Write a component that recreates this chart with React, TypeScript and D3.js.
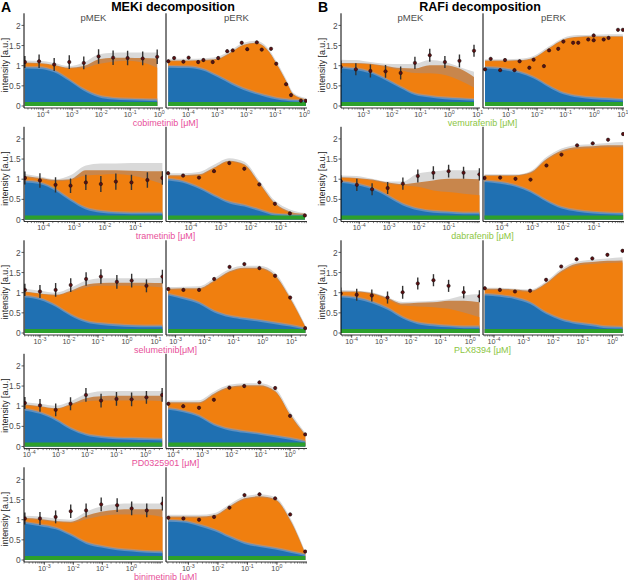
import React from "react";
import * as d3 from "d3";

// ---------- constant layers ----------
const GREEN_TOP = 0.1;
const LIGHTBLUE_BAND = 0.04;
const TAN_BAND = 0.07;

// ---------- A1 cobimetinib ----------
const cobiMekX = [-4.63, -4.14, -3.62, -3.1, -2.6, -2.09, -1.59, -1.09, -0.57, -0.07];
const cobiMekY = [1.09, 1.11, 1.03, 1.09, 1.07, 1.23, 1.2, 1.19, 1.18, 1.22];
const cobiMekErr = [0.15, 0.17, 0.16, 0.17, 0.16, 0.18, 0.18, 0.18, 0.17, 0.18];
const cobiMekBlue = [0.93, 0.92, 0.84, 0.62, 0.38, 0.22, 0.16, 0.14, 0.13, 0.12];
const cobiMekOrange = [1.06, 1.05, 1.0, 0.93, 0.94, 1.04, 1.1, 1.12, 1.08, 0.95];
const cobiMekBrown = [1.08, 1.07, 1.02, 0.95, 0.99, 1.16, 1.2, 1.2, 1.19, 1.18];
const cobiMekGray = [1.13, 1.12, 1.07, 0.99, 1.08, 1.28, 1.32, 1.33, 1.33, 1.33];

const cobiErkX = [-4.69, -4.49, -4.17, -3.99, -3.66, -3.48, -3.16, -2.97, -2.66, -2.47, -2.16, -1.97, -1.64, -1.47, -1.15, -0.97, -0.63, -0.46, -0.12, 0.05];
const cobiErkY = [1.11, 1.19, 1.1, 1.2, 1.09, 1.14, 1.09, 1.19, 1.36, 1.38, 1.57, 1.41, 1.58, 1.4, 1.42, 1.05, 0.54, 0.27, 0.13, 0.13];
const cobiErkErr = [0.04, 0.04, 0.04, 0.04, 0.04, 0.04, 0.04, 0.04, 0.04, 0.04, 0.04, 0.04, 0.04, 0.04, 0.04, 0.04, 0.04, 0.04, 0.04, 0.04];
const cobiErkKnots = [-4.69, -4.0, -3.5, -3.0, -2.5, -2.1, -1.65, -1.3, -0.95, -0.63, -0.38, 0.05];
const cobiErkBlue = [0.95, 0.94, 0.88, 0.72, 0.53, 0.4, 0.29, 0.22, 0.16, 0.13, 0.11, 0.1];
const cobiErkOrange = [1.11, 1.11, 1.12, 1.15, 1.33, 1.5, 1.55, 1.4, 1.02, 0.6, 0.27, 0.15];
const cobiErkBrown = [1.13, 1.13, 1.14, 1.17, 1.35, 1.52, 1.57, 1.42, 1.04, 0.62, 0.29, 0.17];
const cobiErkGray = [1.17, 1.17, 1.18, 1.22, 1.4, 1.57, 1.62, 1.47, 1.09, 0.67, 0.33, 0.2];

// ---------- A2 trametinib ----------
const tramMekX = [-4.61, -4.12, -3.61, -3.12, -2.62, -2.13, -1.64, -1.13, -0.61, -0.12];
const tramMekY = [1.03, 0.97, 0.86, 0.84, 0.92, 0.88, 0.94, 0.92, 0.98, 1.03];
const tramMekErr = [0.16, 0.18, 0.19, 0.18, 0.19, 0.2, 0.2, 0.19, 0.19, 0.17];
const tramMekBlue = [0.92, 0.88, 0.71, 0.46, 0.25, 0.17, 0.14, 0.13, 0.13, 0.13];
const tramMekOrange = [1.05, 1.0, 0.95, 0.98, 1.09, 1.11, 1.13, 1.09, 1.0, 0.88];
const tramMekBrown = [1.08, 1.03, 0.98, 1.0, 1.22, 1.22, 1.22, 1.21, 1.2, 1.2];
const tramMekGray = [1.13, 1.07, 1.0, 1.1, 1.34, 1.39, 1.39, 1.4, 1.4, 1.4];

const tramErkX = [-4.76, -4.26, -3.73, -3.23, -2.72, -2.22, -1.72, -1.2, -0.7, -0.2];
const tramErkY = [1.15, 1.09, 1.04, 1.2, 1.4, 1.26, 0.87, 0.39, 0.15, 0.1];
const tramErkErr = [0.04, 0.04, 0.04, 0.04, 0.04, 0.04, 0.04, 0.04, 0.04, 0.04];
const tramErkBlue = [0.97, 0.91, 0.76, 0.57, 0.4, 0.32, 0.21, 0.1, 0.08, 0.08];
const tramErkOrange = [1.07, 1.07, 1.09, 1.26, 1.43, 1.34, 0.88, 0.38, 0.17, 0.1];
const tramErkBrown = [1.1, 1.1, 1.12, 1.29, 1.46, 1.37, 0.91, 0.41, 0.2, 0.12];
const tramErkGray = [1.15, 1.15, 1.18, 1.36, 1.52, 1.43, 0.97, 0.47, 0.25, 0.16];

// ---------- A3 selumetinib ----------
const seluMekX = [-3.52, -3.0, -2.46, -1.94, -1.41, -0.9, -0.35, 0.16, 0.67, 1.22];
const seluMekY = [1.07, 1.03, 1.07, 1.19, 1.34, 1.4, 1.27, 1.3, 1.17, 1.4];
const seluMekErr = [0.15, 0.16, 0.17, 0.17, 0.17, 0.18, 0.17, 0.17, 0.16, 0.17];
const seluMekBlue = [0.88, 0.82, 0.65, 0.42, 0.26, 0.2, 0.17, 0.15, 0.14, 0.14];
const seluMekOrange = [1.01, 0.97, 0.93, 1.02, 1.13, 1.17, 1.17, 1.17, 1.16, 1.13];
const seluMekBrown = [1.03, 0.98, 0.95, 1.05, 1.2, 1.24, 1.25, 1.25, 1.25, 1.24];
const seluMekGray = [1.1, 1.05, 1.0, 1.12, 1.3, 1.36, 1.36, 1.36, 1.36, 1.37];

const seluErkX = [-3.25, -2.73, -2.19, -1.67, -1.14, -0.63, -0.11, 0.43, 0.95, 1.47];
const seluErkY = [1.09, 1.07, 1.07, 1.34, 1.64, 1.71, 1.61, 1.42, 0.88, 0.12];
const seluErkErr = [0.04, 0.04, 0.04, 0.04, 0.04, 0.04, 0.04, 0.04, 0.04, 0.04];
const seluErkBlue = [0.93, 0.84, 0.72, 0.51, 0.39, 0.33, 0.28, 0.22, 0.16, 0.08];
const seluErkOrange = [1.07, 1.08, 1.08, 1.27, 1.5, 1.59, 1.59, 1.4, 0.84, 0.14];
const seluErkBrown = [1.1, 1.11, 1.11, 1.3, 1.53, 1.62, 1.62, 1.43, 0.87, 0.16];
const seluErkGray = [1.14, 1.15, 1.16, 1.36, 1.59, 1.67, 1.67, 1.49, 0.92, 0.2];

// ---------- A4 PD0325901 ----------
const pdMekX = [-4.15, -3.63, -3.09, -2.58, -2.05, -1.53, -1.0, -0.48, 0.03, 0.57];
const pdMekY = [1.08, 1.02, 0.91, 1.06, 1.28, 1.14, 1.18, 1.17, 1.22, 1.28];
const pdMekErr = [0.15, 0.16, 0.16, 0.16, 0.17, 0.17, 0.17, 0.17, 0.16, 0.17];
const pdMekBlue = [0.89, 0.81, 0.64, 0.42, 0.27, 0.21, 0.18, 0.17, 0.16, 0.15];
const pdMekOrange = [1.02, 0.98, 0.93, 1.02, 1.12, 1.14, 1.14, 1.14, 1.14, 1.12];
const pdMekBrown = [1.04, 1.0, 0.95, 1.05, 1.2, 1.25, 1.26, 1.26, 1.26, 1.26];
const pdMekGray = [1.1, 1.06, 1.01, 1.12, 1.3, 1.37, 1.38, 1.38, 1.38, 1.38];

const pdErkX = [-4.17, -3.66, -3.12, -2.61, -2.08, -1.57, -1.05, -0.51, 0.0, 0.52];
const pdErkY = [1.06, 1.0, 0.96, 1.16, 1.46, 1.5, 1.59, 1.45, 0.76, 0.3];
const pdErkErr = [0.04, 0.04, 0.04, 0.04, 0.04, 0.04, 0.04, 0.04, 0.04, 0.04];
const pdErkBlue = [0.91, 0.85, 0.73, 0.52, 0.4, 0.34, 0.29, 0.23, 0.17, 0.09];
const pdErkOrange = [1.07, 1.07, 1.07, 1.28, 1.45, 1.49, 1.49, 1.35, 0.77, 0.27];
const pdErkBrown = [1.1, 1.1, 1.1, 1.31, 1.48, 1.52, 1.52, 1.38, 0.8, 0.3];
const pdErkGray = [1.14, 1.14, 1.15, 1.36, 1.53, 1.57, 1.57, 1.44, 0.86, 0.34];

// ---------- A5 binimetinib ----------
const biniMekX = [-3.67, -3.15, -2.61, -2.09, -1.56, -1.04, -0.49, 0.01, 0.53, 1.07];
const biniMekY = [1.03, 1.03, 1.07, 1.21, 1.23, 1.38, 1.36, 1.28, 1.23, 1.4];
const biniMekErr = [0.15, 0.16, 0.16, 0.17, 0.17, 0.17, 0.17, 0.17, 0.17, 0.17];
const biniMekBlue = [0.9, 0.84, 0.76, 0.6, 0.4, 0.31, 0.24, 0.21, 0.18, 0.17];
const biniMekOrange = [1.01, 0.99, 0.94, 0.92, 1.01, 1.09, 1.13, 1.13, 1.12, 1.07];
const biniMekBrown = [1.04, 1.02, 0.97, 0.95, 1.1, 1.2, 1.25, 1.26, 1.26, 1.26];
const biniMekGray = [1.1, 1.08, 1.03, 1.0, 1.2, 1.33, 1.39, 1.4, 1.4, 1.4];

const biniErkX = [-3.68, -3.17, -2.64, -2.13, -1.61, -1.1, -0.59, -0.06, 0.45, 0.96];
const biniErkY = [1.05, 1.03, 1.0, 1.07, 1.3, 1.61, 1.63, 1.53, 1.13, 0.21];
const biniErkErr = [0.04, 0.04, 0.04, 0.04, 0.04, 0.04, 0.04, 0.04, 0.04, 0.04];
const biniErkBlue = [0.95, 0.93, 0.84, 0.72, 0.55, 0.4, 0.32, 0.26, 0.18, 0.1];
const biniErkOrange = [1.05, 1.05, 1.05, 1.08, 1.3, 1.5, 1.55, 1.48, 0.97, 0.14];
const biniErkBrown = [1.08, 1.08, 1.08, 1.11, 1.33, 1.53, 1.58, 1.51, 1.0, 0.17];
const biniErkGray = [1.12, 1.12, 1.12, 1.16, 1.38, 1.58, 1.63, 1.56, 1.05, 0.21];

// ---------- B1 vemurafenib ----------
const vemMekX = [-3.8, -3.27, -2.76, -2.23, -1.7, -1.2, -0.68, -0.15, 0.36, 0.87];
const vemMekY = [0.97, 0.91, 0.87, 0.86, 0.82, 1.07, 1.26, 1.09, 1.12, 1.37];
const vemMekErr = [0.15, 0.15, 0.16, 0.16, 0.16, 0.15, 0.16, 0.15, 0.16, 0.15];
const vemMekBlue = [0.93, 0.89, 0.81, 0.64, 0.44, 0.27, 0.21, 0.17, 0.15, 0.13];
const vemMekOrange = [1.05, 1.05, 1.03, 0.97, 0.89, 0.82, 0.81, 0.77, 0.64, 0.46];
const vemMekBrown = [1.07, 1.07, 1.05, 1.0, 0.94, 0.93, 1.01, 1.01, 0.93, 0.72];
const vemMekGray = [1.15, 1.14, 1.09, 1.05, 1.04, 1.05, 1.14, 1.09, 0.97, 0.85];

const vemErkX = [-3.82, -3.62, -3.29, -3.12, -2.79, -2.61, -2.27, -2.12, -1.76, -1.58, -1.26, -1.08, -0.74, -0.56, -0.21, -0.02, -0.02, 0.33, 0.5, 0.83, 1.0];
const vemErkY = [0.91, 1.17, 0.89, 1.14, 0.89, 1.11, 0.95, 1.15, 0.99, 1.38, 1.42, 1.6, 1.57, 1.57, 1.65, 1.75, 1.63, 1.65, 1.69, 1.89, 1.89];
const vemErkErr = [0.04, 0.04, 0.04, 0.04, 0.04, 0.04, 0.04, 0.04, 0.04, 0.04, 0.04, 0.04, 0.04, 0.04, 0.04, 0.04, 0.04, 0.04, 0.04, 0.04, 0.04];
const vemErkKnots = [-3.82, -3.12, -2.61, -2.12, -1.58, -1.08, -0.56, -0.02, 0.5, 1.0];
const vemErkBlue = [0.93, 0.89, 0.81, 0.68, 0.46, 0.29, 0.21, 0.17, 0.15, 0.13];
const vemErkOrange = [1.11, 1.11, 1.12, 1.18, 1.42, 1.63, 1.7, 1.71, 1.71, 1.71];
const vemErkBrown = [1.13, 1.13, 1.14, 1.2, 1.44, 1.65, 1.72, 1.73, 1.73, 1.73];
const vemErkGray = [1.16, 1.16, 1.17, 1.24, 1.48, 1.69, 1.76, 1.77, 1.78, 1.78];

// ---------- B2 dabrafenib ----------
const dabMekX = [-4.62, -4.08, -3.57, -3.05, -2.54, -2.04, -1.52, -1.01, -0.51, 0.02];
const dabMekY = [0.95, 0.86, 0.75, 0.78, 0.89, 1.08, 1.16, 1.2, 1.16, 1.12];
const dabMekErr = [0.15, 0.15, 0.15, 0.15, 0.15, 0.16, 0.16, 0.16, 0.15, 0.15];
const dabMekBlue = [0.91, 0.85, 0.75, 0.56, 0.35, 0.23, 0.17, 0.15, 0.13, 0.13];
const dabMekOrange = [1.03, 1.01, 0.97, 0.89, 0.85, 0.81, 0.72, 0.68, 0.64, 0.6];
const dabMekBrown = [1.05, 1.03, 0.99, 0.92, 0.88, 0.92, 0.97, 1.01, 1.01, 1.0];
const dabMekGray = [1.09, 1.08, 1.01, 0.94, 0.94, 1.14, 1.19, 1.22, 1.22, 1.22];

const dabErkX = [-4.57, -4.06, -3.56, -3.07, -2.55, -2.06, -1.55, -1.04, -0.54, -0.05];
const dabErkY = [1.03, 1.04, 1.01, 0.99, 1.34, 1.61, 1.84, 1.89, 1.98, 2.12];
const dabErkErr = [0.04, 0.04, 0.04, 0.04, 0.04, 0.04, 0.04, 0.04, 0.04, 0.04];
const dabErkBlue = [0.93, 0.89, 0.81, 0.67, 0.44, 0.27, 0.19, 0.15, 0.13, 0.12];
const dabErkOrange = [1.08, 1.08, 1.08, 1.14, 1.47, 1.67, 1.75, 1.77, 1.79, 1.79];
const dabErkBrown = [1.1, 1.1, 1.1, 1.17, 1.5, 1.71, 1.8, 1.82, 1.84, 1.84];
const dabErkGray = [1.12, 1.12, 1.12, 1.2, 1.55, 1.76, 1.85, 1.87, 1.9, 1.92];

// ---------- B3 PLX8394 ----------
const plxMekX = [-4.37, -3.83, -3.32, -2.79, -2.28, -1.77, -1.24, -0.73, -0.22, 0.31];
const plxMekY = [0.98, 0.95, 0.93, 0.88, 1.01, 1.23, 1.31, 1.17, 1.01, 0.91];
const plxMekErr = [0.15, 0.15, 0.15, 0.15, 0.16, 0.15, 0.15, 0.15, 0.15, 0.15];
const plxMekBlue = [0.88, 0.84, 0.74, 0.58, 0.36, 0.22, 0.17, 0.14, 0.12, 0.12];
const plxMekOrange = [1.01, 1.01, 0.97, 0.84, 0.68, 0.66, 0.64, 0.6, 0.51, 0.39];
const plxMekBrown = [1.03, 1.03, 0.99, 0.87, 0.73, 0.75, 0.76, 0.8, 0.8, 0.76];
const plxMekGray = [1.07, 1.05, 1.01, 0.89, 0.77, 0.78, 0.8, 0.84, 0.93, 0.97];

const plxErkX = [-4.31, -3.8, -3.29, -2.78, -2.24, -1.73, -1.21, -0.68, -0.17, 0.34];
const plxErkY = [1.11, 1.07, 1.03, 1.05, 1.32, 1.65, 1.83, 1.85, 1.94, 2.04];
const plxErkErr = [0.04, 0.04, 0.04, 0.04, 0.04, 0.04, 0.04, 0.04, 0.04, 0.04];
const plxErkBlue = [0.93, 0.9, 0.84, 0.72, 0.47, 0.31, 0.22, 0.17, 0.12, 0.11];
const plxErkOrange = [1.07, 1.07, 1.05, 1.02, 1.21, 1.5, 1.67, 1.71, 1.74, 1.75];
const plxErkBrown = [1.1, 1.1, 1.08, 1.05, 1.24, 1.54, 1.72, 1.76, 1.79, 1.8];
const plxErkGray = [1.12, 1.12, 1.1, 1.08, 1.28, 1.59, 1.77, 1.82, 1.85, 1.88];

// ---------- axis ticks & labels ----------
const yTicks = [0, 0.5, 1, 1.5, 2];
const yTickLabels = ["0", "0.5", "1", "1.5", "2"];

const drugNames = ["cobimetinib [μM]", "trametinib [μM]", "selumetinib[μM]", "PD0325901 [μM]", "binimetinib [μM]"];
const rafNames = ["vemurafenib [μM]", "dabrafenib [μM]", "PLX8394 [μM]"];
const columnTitles = ["MEKi decomposition", "RAFi decomposition"];
const panelLetters = ["A", "B"];
const stripLabels = ["pMEK", "pERK"];
const yAxisTitle = "intensity [a.u.]";

type Panel = {
  domain: [number, number];
  ticks: number[];
  knotX: number[];
  blue: number[];
  orange: number[];
  brown: number[];
  gray: number[];
  ptX: number[];
  ptY: number[];
  ptErr: number[];
};

const mk = (domain: [number, number], ticks: number[], knotX: number[], blue: number[], orange: number[], brown: number[], gray: number[], ptX: number[], ptY: number[], ptErr: number[]): Panel => ({ domain, ticks, knotX, blue, orange, brown, gray, ptX, ptY, ptErr });

const colA: Panel[][] = [
  [
    mk([-4.66, 0.13], [-4, -3, -2, -1, 0], cobiMekX, cobiMekBlue, cobiMekOrange, cobiMekBrown, cobiMekGray, cobiMekX, cobiMekY, cobiMekErr),
    mk([-4.77, 0.09], [-4, -3, -2, -1, 0], cobiErkKnots, cobiErkBlue, cobiErkOrange, cobiErkBrown, cobiErkGray, cobiErkX, cobiErkY, cobiErkErr),
  ],
  [
    mk([-4.64, -0.1], [-4, -3, -2, -1], tramMekX, tramMekBlue, tramMekOrange, tramMekBrown, tramMekGray, tramMekX, tramMekY, tramMekErr),
    mk([-4.83, -0.13], [-4, -3, -2, -1], tramErkX, tramErkBlue, tramErkOrange, tramErkBrown, tramErkGray, tramErkX, tramErkY, tramErkErr),
  ],
  [
    mk([-3.55, 1.24], [-3, -2, -1, 0, 1], seluMekX, seluMekBlue, seluMekOrange, seluMekBrown, seluMekGray, seluMekX, seluMekY, seluMekErr),
    mk([-3.33, 1.53], [-3, -2, -1, 0, 1], seluErkX, seluErkBlue, seluErkOrange, seluErkBrown, seluErkGray, seluErkX, seluErkY, seluErkErr),
  ],
  [
    mk([-4.18, 0.6], [-4, -3, -2, -1, 0], pdMekX, pdMekBlue, pdMekOrange, pdMekBrown, pdMekGray, pdMekX, pdMekY, pdMekErr),
    mk([-4.25, 0.58], [-4, -3, -2, -1, 0], pdErkX, pdErkBlue, pdErkOrange, pdErkBrown, pdErkGray, pdErkX, pdErkY, pdErkErr),
  ],
  [
    mk([-3.7, 1.09], [-3, -2, -1, 0], biniMekX, biniMekBlue, biniMekOrange, biniMekBrown, biniMekGray, biniMekX, biniMekY, biniMekErr),
    mk([-3.76, 1.02], [-3, -2, -1, 0], biniErkX, biniErkBlue, biniErkOrange, biniErkBrown, biniErkGray, biniErkX, biniErkY, biniErkErr),
  ],
];

const colB: Panel[][] = [
  [
    mk([-3.79, 1.08], [-3, -2, -1, 0, 1], vemMekX, vemMekBlue, vemMekOrange, vemMekBrown, vemMekGray, vemMekX, vemMekY, vemMekErr),
    mk([-3.89, 1.04], [-3, -2, -1, 0, 1], vemErkKnots, vemErkBlue, vemErkOrange, vemErkBrown, vemErkGray, vemErkX, vemErkY, vemErkErr),
  ],
  [
    mk([-4.61, 0.04], [-4, -3, -2, -1], dabMekX, dabMekBlue, dabMekOrange, dabMekBrown, dabMekGray, dabMekX, dabMekY, dabMekErr),
    mk([-4.62, -0.02], [-4, -3, -2, -1], dabErkX, dabErkBlue, dabErkOrange, dabErkBrown, dabErkGray, dabErkX, dabErkY, dabErkErr),
  ],
  [
    mk([-4.36, 0.33], [-4, -3, -2, -1, 0], plxMekX, plxMekBlue, plxMekOrange, plxMekBrown, plxMekGray, plxMekX, plxMekY, plxMekErr),
    mk([-4.37, 0.39], [-4, -3, -2, -1, 0], plxErkX, plxErkBlue, plxErkOrange, plxErkBrown, plxErkGray, plxErkX, plxErkY, plxErkErr),
  ],
];

// ---------- layout / style ----------
const W = 628;
const H = 580;
const UNIT = 40.3;
const FONT = "'Liberation Sans', Arial, Helvetica, sans-serif";
const COLORS = {
  gray: "#d9d9d9",
  brown: "#c8864c",
  orange: "#f07f0f",
  tan: "#c98d5a",
  lightBlue: "#5f90c0",
  blue: "#1f70b2",
  green: "#2ca02c",
};
const PINK = "#e8509a";
const LIME = "#8cc63f";
const TEXT_GRAY = "#4d4d4d";

const rowY0 = (r: number) => 106 + 113.5 * r;

function PanelView({ p, x0, width, y0, showY, id }: { p: Panel; x0: number; width: number; y0: number; showY: boolean; id: string }) {
  const xs = d3.scaleLinear().domain(p.domain).range([x0, x0 + width]);
  const ys = d3.scaleLinear().domain([-0.05, 2.3]).range([y0 + 0.05 * UNIT, y0 - 2.3 * UNIT]);
  const idx = p.knotX.map((_, i) => i);
  const areaOf = (top: (i: number) => number) =>
    d3
      .area<number>()
      .x((i) => xs(p.knotX[i]))
      .y0(ys(0))
      .y1((i) => ys(top(i)))
      .curve(d3.curveMonotoneX)(idx) || "";

  const layers = [
    { key: "gray", d: areaOf((i) => p.gray[i]), fill: COLORS.gray },
    { key: "brown", d: areaOf((i) => p.brown[i]), fill: COLORS.brown },
    { key: "orange", d: areaOf((i) => p.orange[i]), fill: COLORS.orange },
    { key: "tan", d: areaOf((i) => p.blue[i] + TAN_BAND), fill: COLORS.tan },
    { key: "lightBlue", d: areaOf((i) => p.blue[i] + LIGHTBLUE_BAND), fill: COLORS.lightBlue },
    { key: "blue", d: areaOf((i) => p.blue[i]), fill: COLORS.blue },
    { key: "green", d: areaOf(() => GREEN_TOP), fill: COLORS.green },
  ];

  const yBottom = ys(-0.05);
  const yTop = ys(2.3);

  const minor: number[] = [];
  for (let dec = Math.floor(p.domain[0]); dec <= Math.ceil(p.domain[1]); dec++) {
    for (let m = 1; m <= 9; m++) {
      const v = dec + Math.log10(m);
      if (v >= p.domain[0] && v <= p.domain[1]) minor.push(v);
    }
  }
  const big = p.ptErr[0] > 0.1;

  return (
    <g>
      <defs>
        <clipPath id={id}>
          <rect x={x0} y={yTop} width={width} height={yBottom - yTop} />
        </clipPath>
      </defs>
      <g clipPath={`url(#${id})`}>
        {layers.map((l) => (
          <path key={l.key} d={l.d} fill={l.fill} />
        ))}
        {p.ptX.map((xv, i) => (
          <line
            key={"e" + i}
            x1={xs(xv)}
            x2={xs(xv)}
            y1={ys(p.ptY[i] - p.ptErr[i])}
            y2={ys(p.ptY[i] + p.ptErr[i])}
            stroke={big ? "#333" : "#222"}
            strokeWidth={big ? 1.4 : 1.1}
          />
        ))}
        {p.ptX.map((xv, i) => (
          <circle key={"p" + i} cx={xs(xv)} cy={ys(p.ptY[i])} r={1.7} fill="#5c0f12" stroke="#111" strokeWidth={0.5} />
        ))}
      </g>
      <line x1={x0} x2={x0} y1={yTop} y2={yBottom} stroke="#000" strokeWidth={1} />
      <line x1={x0} x2={x0 + width} y1={yBottom} y2={yBottom} stroke="#000" strokeWidth={0.8} />
      {minor.map((v, i) => (
        <line key={"m" + i} x1={xs(v)} x2={xs(v)} y1={yBottom} y2={yBottom + 1.6} stroke="#333" strokeWidth={0.6} />
      ))}
      {p.ticks.map((t) => (
        <g key={"t" + t}>
          <line x1={xs(t)} x2={xs(t)} y1={yBottom} y2={yBottom + 2.8} stroke="#333" strokeWidth={0.8} />
          <text x={xs(t)} y={y0 + 10.5} textAnchor="middle" fontSize={7.3} fill={TEXT_GRAY} fontFamily={FONT}>
            10
            <tspan dy={-2.8} fontSize={5.3}>
              {String(t)}
            </tspan>
          </text>
        </g>
      ))}
      {showY &&
        yTicks.map((t, i) => (
          <g key={"y" + t}>
            <line x1={x0 - 2.5} x2={x0} y1={ys(t)} y2={ys(t)} stroke="#333" strokeWidth={0.8} />
            <text x={x0 - 3.3} y={ys(t) + 3.1} textAnchor="end" fontSize={8.4} fill={TEXT_GRAY} fontFamily={FONT}>
              {yTickLabels[i]}
            </text>
          </g>
        ))}
    </g>
  );
}

function Column({ panels, off, names, nameColor, title, titleX, letter }: { panels: Panel[][]; off: number; names: string[]; nameColor: string; title: string; titleX: number; letter: string }) {
  const mekX = 24 + off;
  const erkX = 166 + off;
  return (
    <g>
      <text x={off + 1} y={12} fontSize={14} fontWeight="bold" fill="#000" fontFamily={FONT}>
        {letter}
      </text>
      <text x={titleX} y={11} fontSize={12.5} fontWeight="bold" fill="#000" textAnchor="middle" fontFamily={FONT}>
        {title}
      </text>
      <text x={mekX + 69.5} y={20.5} fontSize={9.5} fill={TEXT_GRAY} textAnchor="middle" fontFamily={FONT}>
        {stripLabels[0]}
      </text>
      <text x={erkX + 70.5} y={20.5} fontSize={9.5} fill={TEXT_GRAY} textAnchor="middle" fontFamily={FONT}>
        {stripLabels[1]}
      </text>
      {panels.map((row, r) => {
        const y0 = rowY0(r);
        return (
          <g key={r}>
            <text
              transform={`translate(${off + 7.8},${y0 - 41}) rotate(-90)`}
              textAnchor="middle"
              fontSize={8.8}
              fill="#222"
              fontFamily={FONT}
            >
              {yAxisTitle}
            </text>
            <PanelView p={row[0]} x0={mekX} width={139} y0={y0} showY={true} id={`clip-${letter}-${r}-0`} />
            <PanelView p={row[1]} x0={erkX} width={141} y0={y0} showY={false} id={`clip-${letter}-${r}-1`} />
            <text x={(mekX + erkX + 141) / 2} y={y0 + 19.5} textAnchor="middle" fontSize={9} fill={nameColor} fontFamily={FONT}>
              {names[r]}
            </text>
          </g>
        );
      })}
    </g>
  );
}

export default function App() {
  return (
    <svg width={W} height={H} viewBox={`0 0 ${W} ${H}`} style={{ display: "block", position: "absolute", left: 0, top: 0, background: "#fff" }}>
      <rect x={0} y={0} width={W} height={H} fill="#fff" />
      <Column panels={colA} off={0} names={drugNames} nameColor={PINK} title={columnTitles[0]} titleX={173} letter={panelLetters[0]} />
      <Column panels={colB} off={317} names={rafNames} nameColor={LIME} title={columnTitles[1]} titleX={480} letter={panelLetters[1]} />
    </svg>
  );
}
